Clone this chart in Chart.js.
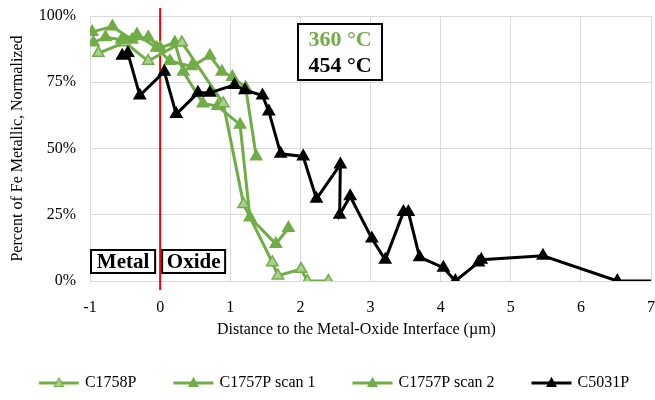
<!DOCTYPE html>
<html>
<head>
<meta charset="utf-8">
<style>
  html, body { margin: 0; padding: 0; background: #ffffff; }
  #wrap { width: 655px; height: 400px; }
</style>
<script src="https://cdn.jsdelivr.net/npm/chart.js@4.4.1/dist/chart.umd.min.js"></script>
</head>
<body>
<div id="wrap"><canvas id="chart" width="655" height="400"></canvas></div>
<script>
// Fe metallic fraction (normalized, %) versus distance to the metal/oxide interface (µm)
const seriesNames = ['C1758P', 'C1757P scan 1', 'C1757P scan 2', 'C5031P'];

const c1758pX = [-0.88, -0.5, -0.17, 0.31, 0.9, 1.19, 1.6, 1.68, 2.01, 2.1, 2.4];
const c1758pY = [86, 90, 83, 90, 67, 29, 7, 2, 4.5, 0, 0];

const scan1X = [-0.97, -0.68, -0.4, -0.17, 0.0, 0.21, 0.33, 0.61, 0.82, 1.14, 1.28, 1.65, 1.83];
const scan1Y = [94, 96, 91, 92, 88, 90, 79, 67, 66, 59, 24, 14, 20];

const scan2X = [-0.95, -0.78, -0.55, -0.33, -0.05, 0.14, 0.45, 0.71, 0.88, 1.03, 1.22, 1.37];
const scan2Y = [90, 92, 91, 93, 88, 83, 81, 85, 79, 77, 73, 47];

const c5031pX = [-0.54, -0.46, -0.29, 0.06, 0.23, 0.54, 0.71, 1.06, 1.21, 1.46, 1.55, 1.72, 2.04, 2.23, 2.57, 2.56, 2.71, 3.02, 3.21, 3.47, 3.54, 3.70, 4.04, 4.21, 4.54, 4.58, 5.46, 6.52, 7.3];
const c5031pY = [85, 86, 70, 79, 63, 71, 71, 74, 72, 70, 64, 48, 47, 31, 44, 25, 32, 16, 8, 26, 26, 9, 5, 0, 7, 8, 9.5, 0, 0];

const xTickValues = [-1, 0, 1, 2, 3, 4, 5, 6, 7];
const yTickValues = [0, 25, 50, 75, 100];
const interfaceX = 0;
const phaseLabels = ['Metal', 'Oxide'];
const tempLabels = ['360 °C', '454 °C'];
const xTitle = 'Distance to the Metal-Oxide Interface (µm)';
const yTitle = 'Percent of Fe Metallic, Normalized';

const GREEN = '#70AD47';
const GREEN_LIGHT = '#A9D18E';
const BLACK = '#000000';
const SERIF = "'Liberation Serif', 'Times New Roman', serif";

function toPoints(xs, ys) {
  return xs.map((x, i) => ({ x: x, y: ys[i] }));
}

// legend swatch: a short line with a triangle marker, offset so the line sits next to the text
function swatch(lineColor, fillColor) {
  const c = document.createElement('canvas');
  c.width = 60; c.height = 14;
  const g = c.getContext('2d');
  g.strokeStyle = lineColor; g.lineWidth = 3;
  g.beginPath(); g.moveTo(17.5, 7); g.lineTo(57.5, 7); g.stroke();
  g.fillStyle = fillColor; g.strokeStyle = lineColor; g.lineWidth = 1.2;
  g.beginPath(); g.moveTo(37.5, 2); g.lineTo(42, 10.5); g.lineTo(33, 10.5); g.closePath();
  g.fill(); g.stroke();
  return c;
}

const styles = [
  { line: GREEN, fill: GREEN_LIGHT },
  { line: GREEN, fill: GREEN },
  { line: GREEN, fill: GREEN },
  { line: BLACK, fill: BLACK }
];
const swatches = styles.map(s => swatch(s.line, s.fill));

function makeDataset(i, xs, ys, order) {
  return {
    label: seriesNames[i],
    data: toPoints(xs, ys),
    showLine: true,
    borderColor: styles[i].line,
    borderWidth: 3,
    pointStyle: 'triangle',
    pointRadius: 6.5,
    pointHoverRadius: 6.5,
    pointBackgroundColor: styles[i].fill,
    pointBorderColor: styles[i].line,
    pointBorderWidth: 1.5,
    order: order
  };
}

const overlay = {
  id: 'interfaceOverlay',
  beforeDatasetsDraw(chart) {
    const { ctx, chartArea, scales } = chart;
    const px = scales.x.getPixelForValue(interfaceX);
    ctx.save();
    ctx.strokeStyle = '#FF0000';
    ctx.lineWidth = 2;
    ctx.beginPath();
    ctx.moveTo(px, chartArea.top - 8);
    ctx.lineTo(px, chartArea.bottom + 9);
    ctx.stroke();
    ctx.restore();
  },
  afterDatasetsDraw(chart) {
    const { ctx, chartArea, scales } = chart;
    const px = scales.x.getPixelForValue(interfaceX);
    const drawBox = (x, y, w, h) => {
      ctx.fillStyle = '#ffffff';
      ctx.fillRect(x, y, w, h);
      ctx.strokeStyle = '#000000';
      ctx.lineWidth = 2;
      ctx.strokeRect(x, y, w, h);
    };
    ctx.save();
    ctx.textAlign = 'center';
    ctx.textBaseline = 'middle';

    // phase labels either side of the interface
    const by = chartArea.bottom - 31;
    const bh = 23;
    const mx = chartArea.left + 1, mw = px - 5 - mx;
    drawBox(mx, by, mw, bh);
    const ox = px + 2, ow = 63;
    drawBox(ox, by, ow, bh);
    ctx.font = 'bold 21px ' + SERIF;
    ctx.fillStyle = '#000000';
    ctx.fillText(phaseLabels[0], mx + mw / 2, by + bh / 2 + 1);
    ctx.fillText(phaseLabels[1], ox + ow / 2, by + bh / 2 + 1);

    // temperature key
    const tx = chartArea.left + 208, ty = chartArea.top + 8, tw = 84, th = 56;
    drawBox(tx, ty, tw, th);
    ctx.font = 'bold 22px ' + SERIF;
    ctx.fillStyle = GREEN;
    ctx.fillText(tempLabels[0], tx + tw / 2, ty + 16);
    ctx.fillStyle = '#000000';
    ctx.fillText(tempLabels[1], tx + tw / 2, ty + 42);
    ctx.restore();
  }
};

new Chart(document.getElementById('chart'), {
  type: 'scatter',
  data: {
    datasets: [
      makeDataset(0, c1758pX, c1758pY, 2),
      makeDataset(1, scan1X, scan1Y, 3),
      makeDataset(2, scan2X, scan2Y, 1),
      makeDataset(3, c5031pX, c5031pY, 0)
    ]
  },
  options: {
    responsive: false,
    animation: false,
    devicePixelRatio: 1,
    layout: { autoPadding: false, padding: { top: 16, right: 0, bottom: 8, left: 0 } },
    plugins: {
      tooltip: { enabled: false },
      legend: {
        position: 'bottom',
        maxHeight: 41,
        labels: {
          usePointStyle: true,
          pointStyleWidth: 51,
          boxHeight: 14,
          padding: 24,
          color: '#000000',
          font: { family: SERIF, size: 16 },
          generateLabels(chart) {
            return chart.data.datasets.map((ds, i) => ({
              text: ds.label,
              pointStyle: swatches[i],
              fillStyle: styles[i].fill,
              strokeStyle: styles[i].line,
              lineWidth: 0,
              fontColor: '#000000',
              hidden: false,
              datasetIndex: i
            }));
          }
        }
      }
    },
    scales: {
      x: {
        type: 'linear',
        min: -1,
        max: 7,
        afterBuildTicks(scale) { scale.ticks = xTickValues.map(v => ({ value: v })); },
        afterFit(scale) { scale.height = 70; },
        border: { display: false },
        grid: { color: '#D9D9D9', lineWidth: 1, drawTicks: true, tickLength: 17, tickColor: 'rgba(0,0,0,0)' },
        ticks: {
          padding: 0,
          color: '#000000',
          font: { family: SERIF, size: 16 },
          callback: v => String(v)
        },
        title: {
          display: true,
          text: xTitle + '\u00A0\u00A0\u00A0\u00A0\u00A0\u00A0\u00A0',
          color: '#000000',
          font: { family: SERIF, size: 16 },
          padding: { top: 0, bottom: 12 }
        }
      },
      y: {
        type: 'linear',
        min: 0,
        max: 100,
        afterBuildTicks(scale) { scale.ticks = yTickValues.map(v => ({ value: v })); },
        afterFit(scale) { scale.width = 90; },
        border: { display: false },
        grid: { color: '#D9D9D9', lineWidth: 1, drawTicks: true, tickLength: 14, tickColor: 'rgba(0,0,0,0)' },
        ticks: {
          padding: 0,
          color: '#000000',
          font: { family: SERIF, size: 16 },
          callback: v => v + '%'
        },
        title: {
          display: true,
          text: yTitle,
          color: '#000000',
          font: { family: SERIF, size: 16 },
          padding: { top: 8, bottom: 0 }
        }
      }
    }
  },
  plugins: [overlay]
});
</script>
</body>
</html>
